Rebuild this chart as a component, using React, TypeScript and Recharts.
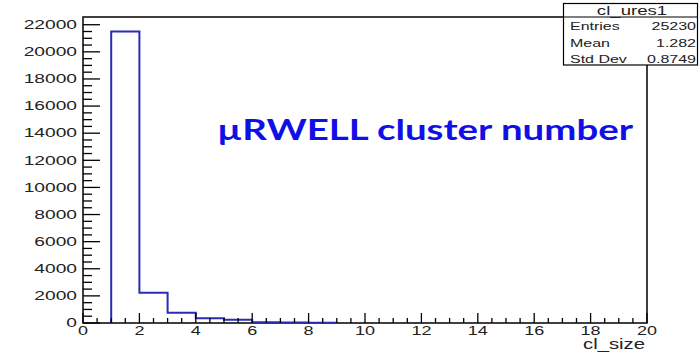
import React from 'react';
import { ComposedChart, Line, XAxis, YAxis, ReferenceArea } from 'recharts';

// ---- data ----
const binLowEdges = [1, 2, 3, 4, 5, 6, 7, 8];
const binCounts = [21500, 2236, 760, 350, 240, 60, 30, 15];
const binWidth = 1;

const xMajorTicks = [0, 2, 4, 6, 8, 10, 12, 14, 16, 18, 20];
const yMajorTicks = [0, 2000, 4000, 6000, 8000, 10000, 12000, 14000, 16000, 18000, 20000, 22000];
const xMinorStep = 0.5;
const yMinorStep = 500;
const X_MAX = 20;
const Y_MAX = 22570;

const chartTitle = 'µRWELL cluster number';
const xAxisTitle = 'cl_size';
const statsName = 'cl_ures1';
const statsLabels = ['Entries', 'Mean', 'Std Dev'];
const statsValues = ['25230', '1.282', '0.8749'];

// ---- derived ----
const stepData = [
  { x: binLowEdges[0], y: 0 },
  ...binLowEdges.map((e, i) => ({ x: e, y: binCounts[i] })),
  { x: binLowEdges[binLowEdges.length - 1] + binWidth, y: 0 },
];

const xAllTicks: number[] = [];
for (let i = 0; i <= X_MAX / xMinorStep; i++) xAllTicks.push(i * xMinorStep);
const yAllTicks: number[] = [];
for (let i = 0; i * yMinorStep <= 22000; i++) yAllTicks.push(i * yMinorStep);

const FONT = '"Liberation Sans", Arial, Helvetica, sans-serif';

const YTick = (props: any) => {
  const { x, y, payload } = props;
  const v = payload.value as number;
  const major = yMajorTicks.includes(v);
  return (
    <g>
      <line x1={x} x2={x + (major ? 17 : 9)} y1={y} y2={y} stroke="#000" strokeWidth={1.3} />
      {major && (
        <text
          transform={`translate(${x - 6},${y + 4.3}) scale(1.6,1)`}
          textAnchor="end"
          fontSize={12}
          fontFamily={FONT}
          fill="#222"
        >
          {v}
        </text>
      )}
    </g>
  );
};

const XTick = (props: any) => {
  const { x, y, payload } = props;
  const v = payload.value as number;
  const major = xMajorTicks.includes(v);
  return (
    <g>
      <line x1={x} x2={x} y1={y} y2={y - (major ? 10 : 5)} stroke="#000" strokeWidth={1.3} />
      {major && (
        <text
          transform={`translate(${x},${y + 12}) scale(1.5,1)`}
          textAnchor="middle"
          fontSize={12}
          fontFamily={FONT}
          fill="#222"
        >
          {v}
        </text>
      )}
    </g>
  );
};

export default function App() {
  return (
    <div style={{ position: 'absolute', left: 0, top: 0, width: 700, height: 353, background: '#fff' }}>
      <ComposedChart
        width={700}
        height={353}
        data={stepData}
        margin={{ top: 17, right: 53, left: 0, bottom: 0 }}
      >
        <XAxis
          type="number"
          dataKey="x"
          domain={[0, X_MAX]}
          ticks={xAllTicks}
          interval={0}
          tick={<XTick />}
          tickLine={false}
          tickSize={0}
          tickMargin={0}
          axisLine={false}
          height={30}
          allowDataOverflow
        />
        <YAxis
          type="number"
          domain={[0, Y_MAX]}
          ticks={yAllTicks}
          interval={0}
          tick={<YTick />}
          tickLine={false}
          tickSize={0}
          tickMargin={0}
          axisLine={false}
          width={83}
          allowDataOverflow
        />
        <ReferenceArea x1={0} x2={X_MAX} y1={0} y2={Y_MAX} fill="none" stroke="#000" strokeWidth={1.5} fillOpacity={0} />
        <Line
          type="stepAfter"
          dataKey="y"
          stroke="#2b2bb8"
          strokeWidth={2}
          dot={false}
          activeDot={false}
          isAnimationActive={false}
        />
      </ComposedChart>
      <svg
        width={700}
        height={353}
        style={{ position: 'absolute', left: 0, top: 0, pointerEvents: 'none' }}
      >
        <text
          x={217}
          y={140}
          fontFamily="Lato, 'Open Sans', sans-serif"
          fontWeight="bold"
          fontSize={29}
          fill="#1010e6"
          textLength={416}
          lengthAdjust="spacingAndGlyphs"
        >
          {chartTitle}
        </text>
        <text
          transform="translate(645,349) scale(1.45,1)"
          textAnchor="end"
          fontSize={14}
          fontFamily={FONT}
          fill="#222"
        >
          {xAxisTitle}
        </text>
        <rect x={563.5} y={3.5} width={134} height={61.5} fill="#fff" stroke="#000" strokeWidth={1.2} />
        <line x1={563.5} x2={697.5} y1={17} y2={17} stroke="#000" strokeWidth={1.2} />
        <text
          transform="translate(632,14.5) scale(1.55,1)"
          textAnchor="middle"
          fontSize={12}
          fontFamily={FONT}
          fill="#222"
        >
          {statsName}
        </text>
        {statsLabels.map((lab, i) => (
          <g key={lab}>
            <text
              transform={`translate(570,${30 + i * 16.5}) scale(1.6,1)`}
              fontSize={10}
              fontFamily={FONT}
              fill="#222"
            >
              {lab}
            </text>
            <text
              transform={`translate(696,${30 + i * 16.5}) scale(1.6,1)`}
              textAnchor="end"
              fontSize={10}
              fontFamily={FONT}
              fill="#222"
            >
              {statsValues[i]}
            </text>
          </g>
        ))}
      </svg>
    </div>
  );
}
